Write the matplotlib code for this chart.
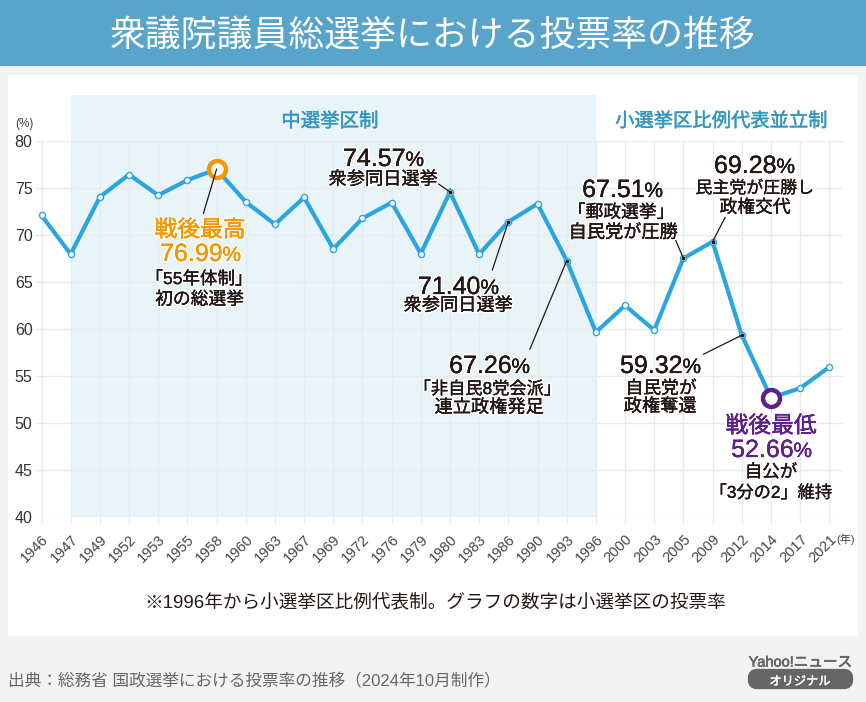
import matplotlib
matplotlib.use("Agg")
import matplotlib.pyplot as plt
from matplotlib.patches import Rectangle, FancyBboxPatch
import matplotlib.patheffects as pe

years = ["1946","1947","1949","1952","1953","1955","1958","1960","1963","1967","1969","1972","1976","1979",
         "1980","1983","1986","1990","1993","1996","2000","2003","2005","2009","2012","2014","2017","2021"]
turnout = [72.08,67.95,74.04,76.43,74.22,75.84,76.99,73.51,71.14,73.99,68.51,71.76,73.45,68.01,
           74.57,67.94,71.40,73.31,67.26,59.65,62.49,59.86,67.51,69.28,59.32,52.66,53.68,55.93]
yticks = [40,45,50,55,60,65,70,75,80]

W, H = 866, 702
FAM = ['Liberation Sans', 'Noto Sans CJK JP']
plt.rcParams['font.family'] = FAM
fig = plt.figure(figsize=(W/100, H/100), dpi=100, facecolor='#f3f3f3')

bg = fig.add_axes([0,0,1,1]); bg.set_xlim(0,W); bg.set_ylim(H,0); bg.axis('off')
bg.add_patch(Rectangle((0,0),W,66,fc='#58a4cb',ec='none'))
bg.add_patch(Rectangle((8,75),850,561,fc='white',ec='none'))
bg.add_patch(Rectangle((70.5,95),525.5,421.7,fc='#e8f4f8',ec='none'))
bg.add_patch(FancyBboxPatch((752,673),97,12,boxstyle='round,pad=0,rounding_size=5',fc='#666666',ec='#666666',lw=6))

left, right, top, bottom = 36, 843, 141, 516.7
ax = fig.add_axes([left/W, 1-bottom/H, (right-left)/W, (bottom-top)/H])
ax.patch.set_alpha(0)
x = list(range(len(years)))
step = (829.3-41.5)/27
ax.set_xlim(-(41.5-left)/step, 27+(right-829.3)/step)
ax.set_ylim(40,80)
for s in ax.spines.values(): s.set_visible(False)
ax.set_yticks(yticks)
ax.set_xticks(x)
ax.set_xticklabels(years,rotation=45,ha='right',rotation_mode='anchor',fontsize=10.5,color='#444444')
ax.set_yticklabels(yticks,fontsize=11.5,color='#333333')
ax.tick_params(axis='y',length=0,pad=2.5)
ax.tick_params(axis='x',length=5,color='#e8e9ea',width=1,pad=6)
ax.grid(True,color='#e8ebec',lw=1.0,zorder=1)
ax.set_axisbelow(True)

ax.plot(x,turnout,color='#2ba5de',lw=3.0,zorder=3,solid_joinstyle='miter')
ax.plot(x,turnout,ls='none',marker='o',ms=4.4,mfc='white',mec='#2ba5de',mew=1.0,zorder=4)
hi, lo = turnout.index(max(turnout)), turnout.index(min(turnout))
ax.plot(hi,turnout[hi],marker='o',ms=12.2,mfc='white',mec='#f39800',mew=3.2,zorder=5)
ax.plot(lo,turnout[lo],marker='o',ms=12.2,mfc='white',mec='#5f1f8d',mew=3.2,zorder=5)

leaders = [(6,76.99,5.55,72.3),(14,74.57,13.62,75.4),(16,71.40,15.45,66.26),(18,67.26,16.74,57.85),
           (22,67.51,21.72,69.53),(23,69.28,23.43,71.87),(24,59.32,22.69,57.3)]
for a,b,c,d in leaders:
    ax.plot([a,c],[b,d],color='#231815',lw=0.9,zorder=6)
for i in [14,16,18,22,23,24]:
    ax.plot(i,turnout[i],marker='o',ms=1.8,color='#231815',zorder=6)

top_ax = fig.add_axes([0,0,1,1]); top_ax.set_xlim(0,W); top_ax.set_ylim(H,0); top_ax.axis('off')
top_ax.patch.set_alpha(0)
DY = 8.5
def T(x,y,s,size,color='#231815',halo=False,bold=0.0,**kw):
    t = top_ax.text(x,y+DY,s,fontsize=size,color=color,ha=kw.pop('ha','center'),va='center',zorder=10,**kw)
    fx = []
    if halo: fx.append(pe.withStroke(linewidth=2.5,foreground='white'))
    if bold: fx.append(pe.withStroke(linewidth=bold,foreground=color))
    if fx: t.set_path_effects(fx)
    return t

def NUM(cx,cy,value,color='#231815'):
    edge = cx+22.5
    base = cy+9
    for s,xx,ha,size in [(value,edge,'right',18),('%',edge,'left',15)]:
        t = top_ax.text(xx,base,s,fontsize=size,color=color,ha=ha,va='baseline',zorder=11)
        t.set_path_effects([pe.withStroke(linewidth=2.5,foreground='white'),
                            pe.withStroke(linewidth=0.15,foreground=color)])

T(433,28,"衆議院議員総選挙における投票率の推移",25.8,color='white')
T(330,113,"中選挙区制",14,color='#3596bf',bold=0.3)
T(721,113,"小選挙区比例代表並立制",13.9,color='#3596bf',bold=0.3)
T(24.5,115.5,"(%)",8.5,color='#444444')
T(845.5,530.5,"(年)",8,color='#444444')
T(435,593.5,"※1996年から小選挙区比例代表制。グラフの数字は小選挙区の投票率",13.4)
T(8,672.5,"出典：総務省 国政選挙における投票率の推移（2024年10月制作）",12,color='#666666',ha='left')
T(800.5,654,"Yahoo!ニュース",10.5,color='#666666',bold=0.5)
T(800,673.5,"オリジナル",8.8,color='white',bold=0.3)

B = 0.15
T(200,221.5,"戦後最高",16.4,color='#f39800',halo=True,bold=0.3)
NUM(200,252,"76.99",color='#f39800')
T(199,270.5,"「55年体制」",12.6,halo=True,bold=B)
T(199.5,291.5,"初の総選挙",12.8,halo=True,bold=B)
NUM(383,157,"74.57")
T(383,171.5,"衆参同日選挙",13.1,halo=True,bold=B)
NUM(458,285,"71.40")
T(458,297.5,"衆参同日選挙",13.1,halo=True,bold=B)
NUM(489,364,"67.26")
T(487.5,380.5,"「非自民8党会派」",12.4,halo=True,bold=B)
T(489,399.5,"連立政権発足",13.1,halo=True,bold=B)
NUM(622,188,"67.51")
T(621,204.5,"「郵政選挙」",12.8,halo=True,bold=B)
T(623,224.5,"自民党が圧勝",13.1,halo=True,bold=B)
NUM(754,164,"69.28")
T(754.5,179.5,"民主党が圧勝し",12.2,halo=True,bold=B)
T(755,199.5,"政権交代",12.8,halo=True,bold=B)
NUM(660,364,"59.32")
T(661,380.5,"自民党が",12.8,halo=True,bold=B)
T(660,398.5,"政権奪還",13.1,halo=True,bold=B)
T(771,417.5,"戦後最低",16.4,color='#5f1f8d',halo=True,bold=0.3)
NUM(771,448,"52.66",color='#5f1f8d')
T(771,463.5,"自公が",12.6,halo=True,bold=B)
T(771,484.5,"「3分の2」維持",12.4,halo=True,bold=B)

fig.savefig("out.png",dpi=100,facecolor=fig.get_facecolor())
